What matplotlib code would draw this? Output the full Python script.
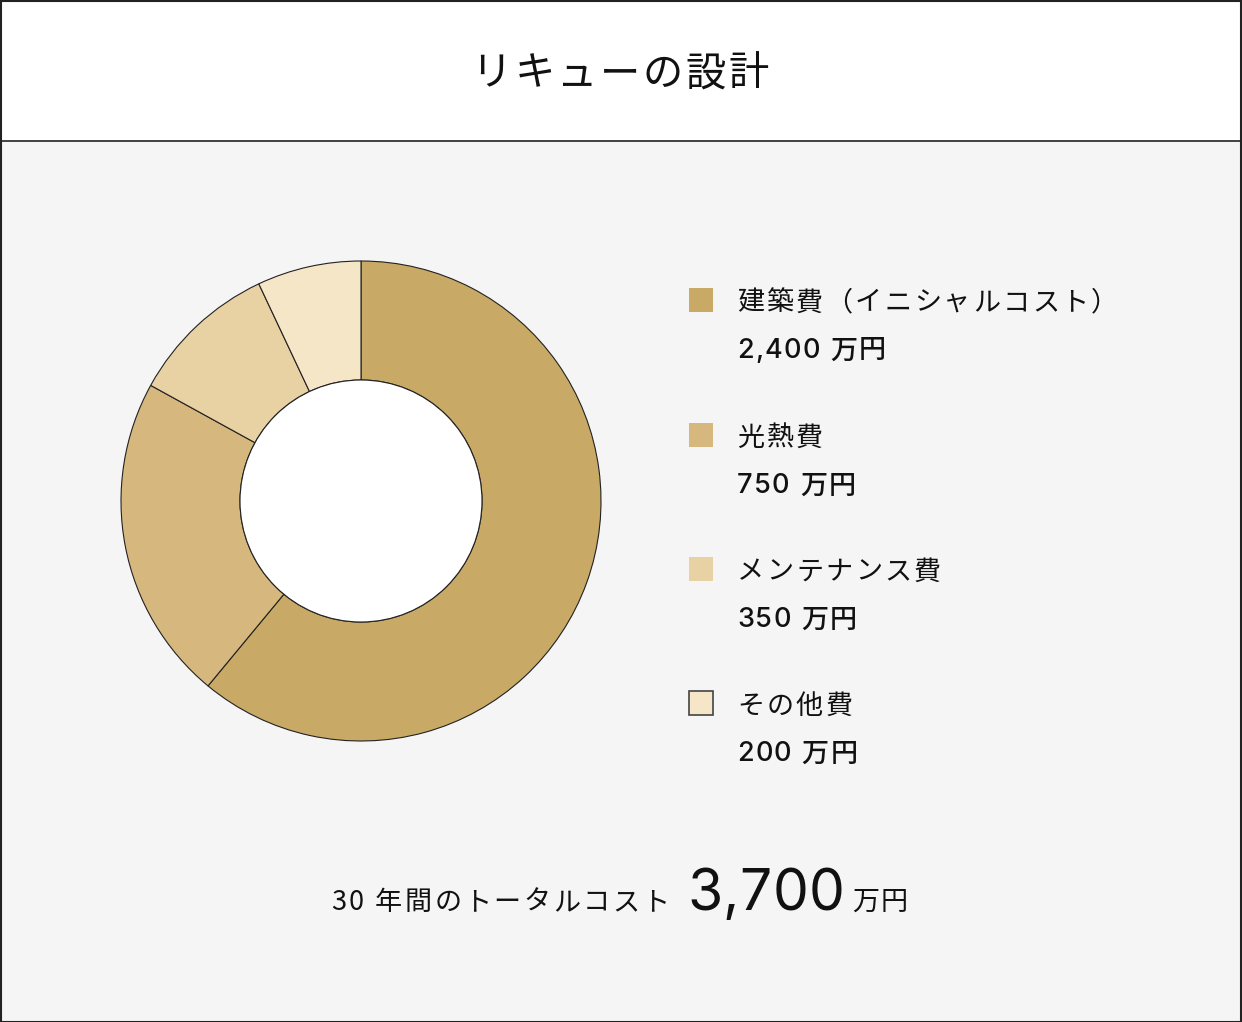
import matplotlib
matplotlib.use("Agg")
import matplotlib.pyplot as plt
from matplotlib.patches import Rectangle, Circle
from matplotlib.font_manager import findfont, FontProperties
from matplotlib.ft2font import FT2Font, LoadFlags

# ---- data ----
title = "リキューの設計"
categories = ["建築費（イニシャルコスト）", "光熱費", "メンテナンス費", "その他費"]
amounts = ["2,400", "750", "350", "200"]          # labels shown in the legend
shares = [61, 22, 10, 7]                          # slice sizes as drawn (%)
colors = ["#C8A965", "#D6B87F", "#E8D1A3", "#F5E6C8"]
total_label = "30 年間のトータルコスト"
total_value = "3,700"
unit = "万円"

W, H = 1242, 1022
DPI = 100
BG = "#F5F5F5"
EDGE = "#222222"
INK = "#111111"
JP = ["Noto Sans CJK JP", "DejaVu Sans"]
MIX = ["Inter", "Noto Sans CJK JP", "DejaVu Sans"]

_fonts = {}


def _font(fam):
    if fam not in _fonts:
        _fonts[fam] = FT2Font(findfont(FontProperties(family=fam)))
    return _fonts[fam]


def glyph(ch, families, size):
    """first family that has the glyph, and its advance in pixels"""
    for fam in families:
        f = _font(fam)
        if f.get_char_index(ord(ch)):
            f.set_size(size, DPI)
            g = f.load_char(ord(ch), flags=LoadFlags.NO_HINTING)
            return fam, g.linearHoriAdvance / 65536
    return families[-1], size * DPI / 72 * 0.5


def spaced_text(fig, x, y, s, families, size, spacing=0.0, ha="left",
                va="center", weight="normal"):
    """draw s char by char with extra letter spacing (pixel coords, y down)"""
    parts = [glyph(ch, families, size) for ch in s]
    total = sum(a for _, a in parts) + spacing * (len(s) - 1)
    if ha == "center":
        x -= total / 2
    for ch, (fam, adv) in zip(s, parts):
        if ch != " ":
            fig.text(x / W, 1 - y / H, ch, family=fam, fontsize=size,
                     ha="left", va=va, color=INK, fontweight=weight)
        x += adv + spacing
    return x


fig = plt.figure(figsize=(W / DPI, H / DPI), dpi=DPI)
fig.patch.set_facecolor(BG)

# title band and frame
fig.patches.append(Rectangle((0, 1 - 141 / H), 1, 141 / H, transform=fig.transFigure,
                             facecolor="white", edgecolor="none", zorder=0))
fig.add_artist(plt.Line2D([0, 1], [1 - 141 / H] * 2, color=EDGE, lw=1.2))
fig.patches.append(Rectangle((0.5 / W, 0.5 / H), 1 - 1.5 / W, 1 - 1.5 / H,
                             transform=fig.transFigure, facecolor="none",
                             edgecolor=EDGE, lw=1.5, zorder=5))
spaced_text(fig, 620, 74, title, JP, 29, spacing=2.5, ha="center")

# donut
cx, cy, r = 361, 501, 240
pad = 6
ax = fig.add_axes([(cx - r - pad) / W, 1 - (cy + r + pad) / H,
                   2 * (r + pad) / W, 2 * (r + pad) / H])
ax.pie(shares, colors=colors, startangle=90, counterclock=False, radius=1,
       wedgeprops=dict(width=1 - 121 / r, edgecolor=EDGE, linewidth=0.8))
ax.add_patch(Circle((0, 0), 121 / r, facecolor="white", edgecolor=EDGE, lw=0.8))
lim = (r + pad) / r
ax.set_xlim(-lim, lim)
ax.set_ylim(-lim, lim)
ax.set_aspect("equal")
ax.axis("off")

# legend
row_y = [300, 435, 569, 703]
for i, (name, amt, col, y) in enumerate(zip(categories, amounts, colors, row_y)):
    ec = "#444444" if i == len(categories) - 1 else "none"
    fig.patches.append(Rectangle((689 / W, 1 - (y + 12) / H), 24 / W, 24 / H,
                                 transform=fig.transFigure, facecolor=col,
                                 edgecolor=ec, lw=1.2))
    spaced_text(fig, 737, y + 3, name, JP, 19.5, spacing=2.4)
    spaced_text(fig, 737, y + 51, f"{amt} {unit}", MIX, 19.5, spacing=1.6,
                weight="medium")

# total
x_end = spaced_text(fig, 331, 910, total_label, JP, 19.5, spacing=2.6,
                    va="baseline")
spaced_text(fig, 687, 910, total_value, MIX, 41, spacing=0.5, va="baseline")
spaced_text(fig, 852, 910, unit, JP, 19.5, spacing=1.5, va="baseline")

fig.savefig("out.png", dpi=DPI, facecolor=fig.get_facecolor())
